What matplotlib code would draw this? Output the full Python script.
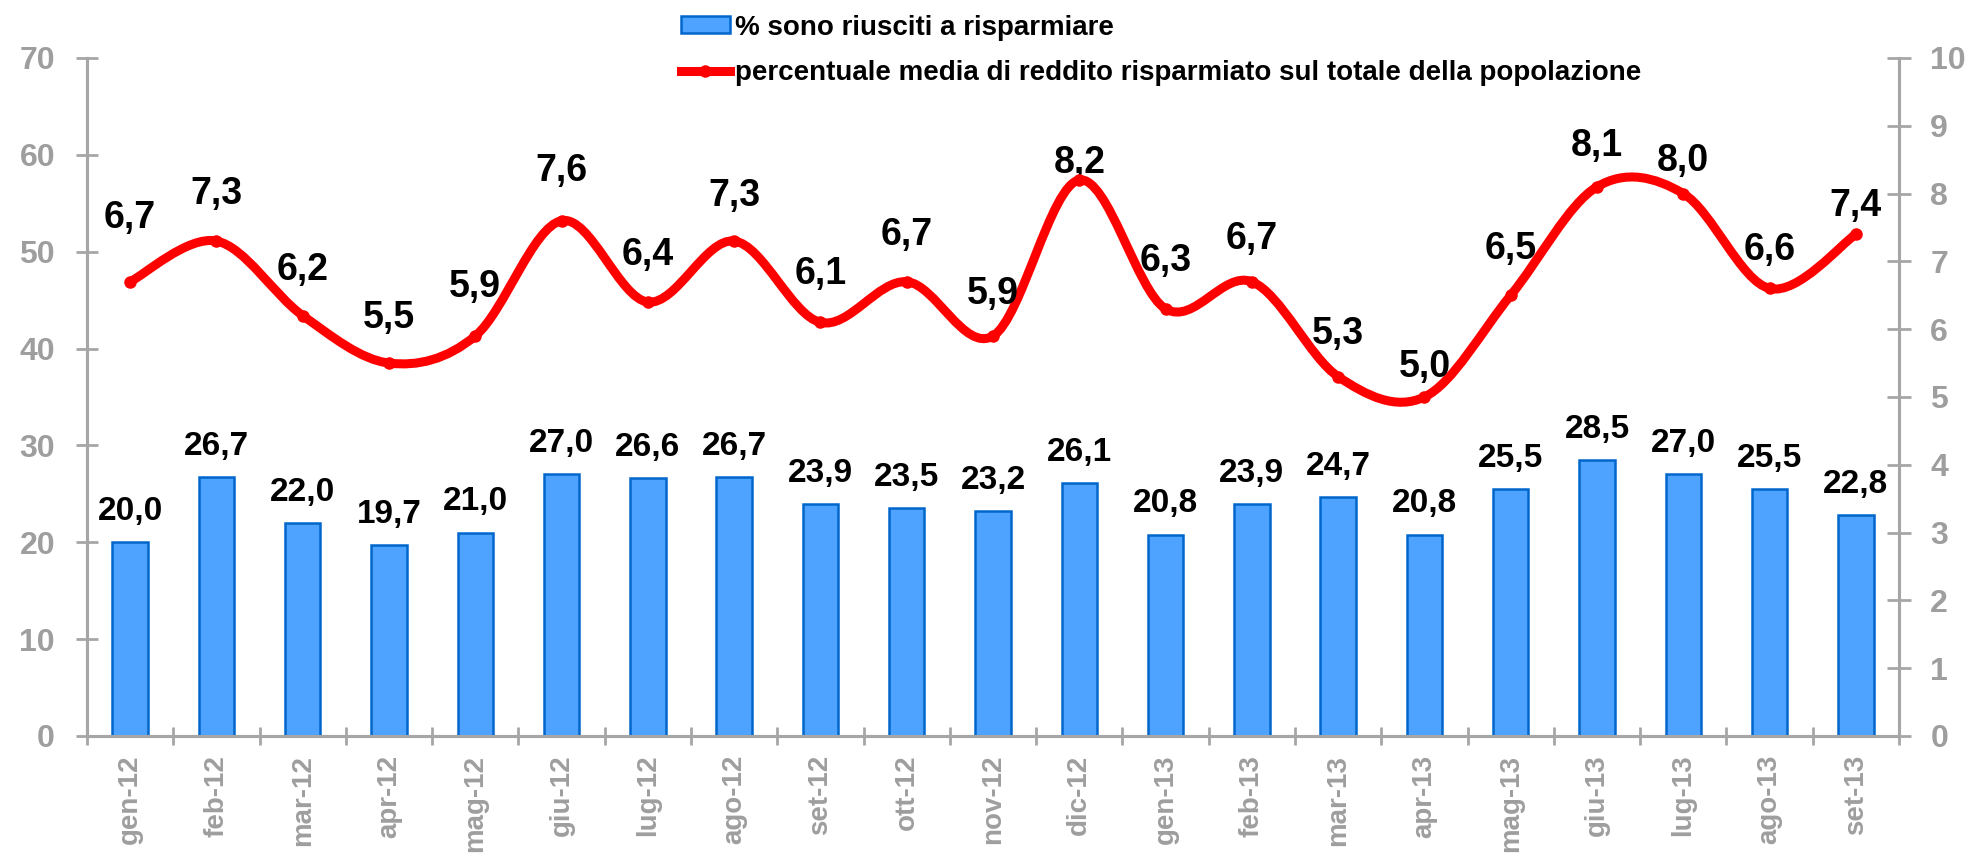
import numpy as np
import matplotlib
matplotlib.use("Agg")
import matplotlib.pyplot as plt
from matplotlib.path import Path
from matplotlib.patches import PathPatch, Patch
from matplotlib.lines import Line2D

months = ["gen-12", "feb-12", "mar-12", "apr-12", "mag-12", "giu-12", "lug-12",
          "ago-12", "set-12", "ott-12", "nov-12", "dic-12", "gen-13", "feb-13",
          "mar-13", "apr-13", "mag-13", "giu-13", "lug-13", "ago-13", "set-13"]
saved_share = [20.0, 26.7, 22.0, 19.7, 21.0, 27.0, 26.6, 26.7, 23.9, 23.5, 23.2,
               26.1, 20.8, 23.9, 24.7, 20.8, 25.5, 28.5, 27.0, 25.5, 22.8]
income_saved = [6.7, 7.3, 6.2, 5.5, 5.9, 7.6, 6.4, 7.3, 6.1, 6.7, 5.9,
                8.2, 6.3, 6.7, 5.3, 5.0, 6.5, 8.1, 8.0, 6.6, 7.4]
bar_name = "% sono riusciti a risparmiare"
line_name = "percentuale media di reddito risparmiato sul totale della popolazione"

# vertical offsets (points) of the line value labels, centre of label above point
label_dy = [48, 36, 35, 35, 38, 38, 36, 35, 37, 36, 33, 15, 37, 33, 33, 24, 36, 32, 26, 30, 23]

FONT = "Liberation Sans"
GRAY = "#9E9E9E"
SPINE = "#A6A6A6"
BAR_FS = 24
LINE_FS = 27

fig = plt.figure(figsize=(19.73, 8.60), dpi=100)
ax = fig.add_axes([0.0441, 0.1442, 0.9184, 0.7884])
ax2 = ax.twinx()

x = np.arange(len(months))
ax.bar(x, saved_share, width=0.41, color="#4DA3FF", edgecolor="#0066CC", linewidth=1.8, zorder=2)
for xi, v in zip(x, saved_share):
    ax.annotate(f"{v:.1f}".replace(".", ","), (xi, v), xytext=(0, 16), textcoords="offset points",
                ha="center", va="baseline", fontsize=BAR_FS, fontweight="bold", family=FONT,
                color="black")

# smooth line (Catmull-Rom Bezier through the data points, like Excel smoothing)
ys = np.array(income_saved, dtype=float)
xs = x.astype(float)
verts = [(xs[0], ys[0])]
codes = [Path.MOVETO]
n = len(xs)
for i in range(n - 1):
    p0 = np.array([xs[max(i - 1, 0)], ys[max(i - 1, 0)]])
    p1 = np.array([xs[i], ys[i]])
    p2 = np.array([xs[i + 1], ys[i + 1]])
    p3 = np.array([xs[min(i + 2, n - 1)], ys[min(i + 2, n - 1)]])
    c1 = p1 + (p2 - p0) / 6.0
    c2 = p2 - (p3 - p1) / 6.0
    verts += [tuple(c1), tuple(c2), tuple(p2)]
    codes += [Path.CURVE4] * 3
ax2.add_patch(PathPatch(Path(verts, codes), facecolor="none", edgecolor="#FF0000",
                        linewidth=6.5, capstyle="round", joinstyle="round", zorder=3))
ax2.plot(xs, ys, "o", color="#FF0000", markersize=8, zorder=4)
for xi, v, dy in zip(x, income_saved, label_dy):
    ax2.annotate(f"{v:.1f}".replace(".", ","), (xi, v), xytext=(0, dy - 0.358 * LINE_FS),
                 textcoords="offset points", ha="center", va="baseline", fontsize=LINE_FS,
                 fontweight="bold", family=FONT, color="black")

ax.set_xlim(-0.5, len(months) - 0.5)
ax.set_ylim(0, 70)
ax2.set_ylim(0, 10)
ax.set_yticks(range(0, 71, 10))
ax2.set_yticks(range(0, 11, 1))

ax.set_xticks(x)
ax.set_xticklabels(months, rotation=90, fontsize=20, fontweight="bold", family=FONT, color=GRAY)
ax.set_xticks(np.arange(-0.5, len(months), 1.0), minor=True)
ax.tick_params(axis="x", which="major", length=0, pad=13.5)
ax.tick_params(axis="x", which="minor", length=13, width=2, color=SPINE, direction="inout")
ax.tick_params(axis="y", length=16, width=2, color=SPINE, direction="inout", pad=15,
               labelsize=23, labelcolor=GRAY)
ax2.tick_params(axis="y", length=17, width=2, color=SPINE, direction="inout", pad=14,
                labelsize=23, labelcolor=GRAY)
for lab in ax.get_yticklabels() + ax2.get_yticklabels():
    lab.set_fontweight("bold")
    lab.set_family(FONT)

for a in (ax, ax2):
    a.spines["top"].set_visible(False)
    for s in ("left", "right", "bottom"):
        a.spines[s].set_color(SPINE)
        a.spines[s].set_linewidth(2.2)
ax.set_zorder(1)
ax2.set_zorder(2)
ax.patch.set_visible(False)

handles = [Patch(facecolor="#4DA3FF", edgecolor="#0066CC", linewidth=1.8),
           Line2D([0], [0], color="#FF0000", linewidth=6.5, marker="o", markersize=8)]
fig.legend(handles, [bar_name, line_name], loc="upper left", bbox_to_anchor=(0.3325, 1.012),
           frameon=False, prop={"family": FONT, "weight": "bold", "size": 20},
           handlelength=1.75, handleheight=0.55, handletextpad=0.2, labelspacing=0.7)

fig.savefig("out.png", dpi=100)
